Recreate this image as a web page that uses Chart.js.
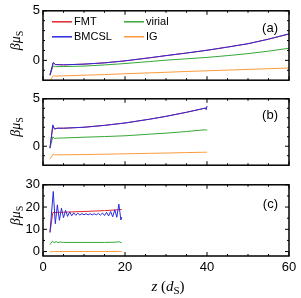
<!DOCTYPE html>
<html>
<head>
<meta charset="utf-8">
<script src="https://cdn.jsdelivr.net/npm/chart.js@4.4.1/dist/chart.umd.min.js"></script>
<style>
    body { margin: 0; background: #fff; }
    #wrap { position: relative; width: 301px; height: 298px; }
    canvas { position: absolute; left: 0; }
</style>
</head>
<body>
<div id="wrap">
    <canvas id="panelA" width="301" height="91" style="top:0px"></canvas>
    <canvas id="panelB" width="301" height="88" style="top:88px"></canvas>
    <canvas id="panelC" width="301" height="124" style="top:174px"></canvas>
</div>
<script>
const seriesNames = ['FMT', 'BMCSL', 'virial', 'IG'];
const seriesColors = ['#e4262b', '#2a2ae0', '#35a835', '#ff9a3a'];

// tick positions
const zTicks = [0, 5, 10, 15, 20, 25, 30, 35, 40, 45, 50, 55, 60];
const muTicksAB = [-1, 0, 1, 2, 3, 4, 5];
const muTicksC = [0, 5, 10, 15, 20, 25, 30];

// panel (a)
const zA = [1.7, 2.5, 3, 5, 10, 15, 20, 26, 30, 35, 40, 45, 50, 55, 60];
const aFMT = [-1.45, -0.25, -0.42, -0.45, -0.38, -0.25, -0.05, 0.26, 0.48, 0.74, 1.02, 1.34, 1.68, 2.14, 2.65];
const aBMCSL = [-1.5, -0.2, -0.42, -0.45, -0.38, -0.25, -0.05, 0.26, 0.48, 0.74, 1.02, 1.34, 1.68, 2.14, 2.68];
const aVirial = [-1.5, -0.55, -0.63, -0.62, -0.58, -0.46, -0.32, -0.12, 0.02, 0.16, 0.3, 0.48, 0.68, 0.93, 1.22];
const aIG = [-2.1, -1.55, -1.58, -1.56, -1.5, -1.43, -1.35, -1.26, -1.2, -1.12, -1.05, -0.98, -0.91, -0.84, -0.77];

// panel (b)
const zB = [1.7, 2.4, 2.8, 3.5, 5, 10, 15, 20, 26, 30, 35, 39.6, 39.8, 40];
const bFMT = [-0.2, 2.1, 1.85, 1.9, 1.9, 2.0, 2.2, 2.45, 2.85, 3.15, 3.58, 4.02, 4.05, 4.1];
const bBMCSL = [-0.2, 2.25, 1.8, 1.9, 1.9, 2.0, 2.2, 2.45, 2.85, 3.15, 3.58, 4.02, 3.85, 4.25];
const bVirial = [-0.2, 1.0, 0.82, 0.85, 0.87, 0.95, 1.02, 1.1, 1.27, 1.38, 1.55, 1.74, 1.65, 1.78];
const bIG = [-1.35, -0.88, -0.9, -0.9, -0.9, -0.88, -0.84, -0.8, -0.75, -0.72, -0.67, -0.63, -0.63, -0.62];

// panel (c)
const zC_FMT = [1.7, 2.4, 5, 10, 15, 19.2];
const cFMT = [8.6, 17.5, 17.7, 18.0, 18.4, 18.9];
const zC_BMCSL = [1.7, 2.5, 3.0, 3.5, 4.0, 4.5, 5.0, 5.5, 6.0, 6.5, 7.0, 7.5, 8.0, 8.5, 9.0, 9.5, 10, 10.5,
    11, 11.5, 12, 12.5, 13, 13.5, 14, 14.5, 15, 15.5, 16, 16.5, 17, 17.5, 18, 18.5, 19, 19.2];
const cBMCSL = [8.6, 27, 12.5, 21, 14, 19.5, 15.2, 18.5, 15.8, 17.8, 16.1, 17.4, 16.3, 17.2, 16.4, 17.1, 16.5, 17.0,
    16.5, 17.0, 16.5, 17.0, 16.5, 17.1, 16.4, 17.3, 16.2, 17.6, 16.0, 18.0, 15.6, 18.8, 15.4, 21.3, 14.2, 15.5];
const zC_virial = [1.7, 2.3, 2.7, 3.2, 3.7, 4.2, 5, 10, 15, 17.5, 18.5, 19.2];
const cVirial = [3.1, 4.7, 4.0, 4.5, 4.0, 4.3, 4.1, 4.1, 4.1, 4.2, 4.4, 3.9];
const zC_IG = [1.7, 2.5, 19.2];
const cIG = [-0.1, 0, 0.05];

const tickFont = { family: "'Liberation Sans', Arial, sans-serif", size: 13 };

function makeSet(i, zs, vals) {
    return {
        label: seriesNames[i],
        data: zs.map((z, k) => ({ x: z, y: vals[k] })),
        borderColor: seriesColors[i],
        backgroundColor: seriesColors[i],
        borderWidth: 1,
        pointRadius: 0,
        tension: 0,
        order: i === 1 ? 0 : i + 1   // BMCSL on top
    };
}

function drawPieces(ctx, pieces, x, y) {
    // pieces: [text, font, baseline shift]
    let w = 0;
    pieces.forEach(p => { ctx.font = p[1]; w += ctx.measureText(p[0]).width; });
    let pos = x - w / 2;
    pieces.forEach(p => {
        ctx.font = p[1];
        ctx.fillText(p[0], pos, y + p[2]);
        pos += ctx.measureText(p[0]).width;
    });
}

// frame, inward ticks, tag, titles, legend
const panelDecor = {
    id: 'panelDecor',
    afterDraw(chart, args, opts) {
        const ctx = chart.ctx;
        const area = chart.chartArea;
        const xs = chart.scales.x;
        const ys = chart.scales.y;
        ctx.save();
        ctx.strokeStyle = '#000';
        ctx.fillStyle = '#000';
        ctx.lineWidth = 1;
        ctx.beginPath();
        xs.ticks.forEach(t => {
            const px = xs.getPixelForValue(t.value);
            const len = t.value % 20 === 0 ? 4 : 2;
            ctx.moveTo(px, area.bottom); ctx.lineTo(px, area.bottom - len);
            ctx.moveTo(px, area.top); ctx.lineTo(px, area.top + len);
        });
        ys.ticks.forEach(t => {
            const py = ys.getPixelForValue(t.value);
            const len = t.value % opts.yMajor === 0 ? 4 : 2;
            ctx.moveTo(area.left, py); ctx.lineTo(area.left + len, py);
            ctx.moveTo(area.right, py); ctx.lineTo(area.right - len, py);
        });
        ctx.stroke();
        ctx.lineWidth = 1.5;
        ctx.strokeRect(area.left, area.top, area.right - area.left, area.bottom - area.top);

        // panel tag
        ctx.font = "13px 'Liberation Sans', Arial, sans-serif";
        ctx.textAlign = 'right';
        ctx.textBaseline = 'alphabetic';
        ctx.fillText(opts.tag, area.right - 11, area.top + opts.tagDy);
        ctx.textAlign = 'left';

        // y title
        ctx.save();
        ctx.translate(20, (area.top + area.bottom) / 2 - 5);
        ctx.rotate(-Math.PI / 2);
        drawPieces(ctx, [
            ['βμ', "italic 14px 'Liberation Serif', serif", 0],
            ['S', "10px 'Liberation Serif', serif", 3]
        ], 0, 0);
        ctx.restore();

        // x title
        if (opts.xTitle) {
            drawPieces(ctx, [
                ['z', "italic 15px 'Liberation Serif', serif", 0],
                [' (', "15px 'Liberation Serif', serif", 0],
                ['d', "italic 15px 'Liberation Serif', serif", 0],
                ['S', "11px 'Liberation Serif', serif", 3],
                [')', "15px 'Liberation Serif', serif", 0]
            ], (area.left + area.right) / 2 + 2, area.bottom + 35);
        }

        // legend
        if (opts.legend) {
            const cols = [52, 124];
            const rows = [area.top + 11, area.top + 26];
            const slots = [[0, 0], [0, 1], [1, 0], [1, 1]];
            ctx.font = "11px 'Liberation Sans', Arial, sans-serif";
            ctx.textBaseline = 'middle';
            chart.data.datasets.forEach((ds, i) => {
                const lx = cols[slots[i][0]];
                const ly = rows[slots[i][1]];
                ctx.strokeStyle = ds.borderColor;
                ctx.lineWidth = 1.5;
                ctx.beginPath();
                ctx.moveTo(lx, ly);
                ctx.lineTo(lx + 20, ly);
                ctx.stroke();
                ctx.fillStyle = '#000';
                ctx.fillText(ds.label, lx + 22, ly + 0.5);
            });
        }
        ctx.restore();
    }
};

function makePanel(id, sets, yMin, yMax, yTicks, yMajor, pad, deco, isBottom) {
    deco.yMajor = yMajor;
    new Chart(document.getElementById(id), {
        type: 'line',
        data: { datasets: sets },
        plugins: [panelDecor],
        options: {
            responsive: false,
            animation: false,
            events: [],
            layout: { padding: { top: pad[0], right: 12, bottom: pad[1], left: 0 } },
            plugins: {
                legend: { display: false },
                tooltip: { enabled: false },
                panelDecor: deco
            },
            scales: {
                x: {
                    type: 'linear',
                    min: 0,
                    max: 60,
                    grid: { display: false, drawTicks: false },
                    border: { display: false },
                    afterBuildTicks: s => { s.ticks = zTicks.map(v => ({ value: v })); },
                    ticks: {
                        display: isBottom,
                        autoSkip: false,
                        maxRotation: 0,
                        padding: 4,
                        color: '#000',
                        font: tickFont,
                        callback: v => v % 20 === 0 ? String(v) : ''
                    },
                    afterFit: s => { s.height = isBottom ? 42 : 0; }
                },
                y: {
                    type: 'linear',
                    min: yMin,
                    max: yMax,
                    grid: { display: false, drawTicks: false },
                    border: { display: false },
                    afterBuildTicks: s => { s.ticks = yTicks.map(v => ({ value: v })); },
                    ticks: {
                        autoSkip: false,
                        padding: 3,
                        color: '#000',
                        font: tickFont,
                        callback: v => v % yMajor === 0 ? String(v) : ''
                    },
                    afterFit: s => { s.width = 43; }
                }
            }
        }
    });
}

makePanel("panelA", [
    makeSet(0, zA, aFMT),
    makeSet(1, zA, aBMCSL),
    makeSet(2, zA, aVirial),
    makeSet(3, zA, aIG)
], -2, 5, muTicksAB, 5, [9, 9], { tag: '(a)', tagDy: 21, legend: true }, false);

makePanel("panelB", [
    makeSet(0, zB, bFMT),
    makeSet(1, zB, bBMCSL),
    makeSet(2, zB, bVirial),
    makeSet(3, zB, bIG)
], -2, 5, muTicksAB, 5, [9, 8], { tag: '(b)', tagDy: 20 }, false);

makePanel("panelC", [
    makeSet(0, zC_FMT, cFMT),
    makeSet(1, zC_BMCSL, cBMCSL),
    makeSet(2, zC_virial, cVirial),
    makeSet(3, zC_IG, cIG)
], -2, 30, muTicksC, 10, [9, 0], { tag: '(c)', tagDy: 23, xTitle: true }, true);
</script>
</body>
</html>
